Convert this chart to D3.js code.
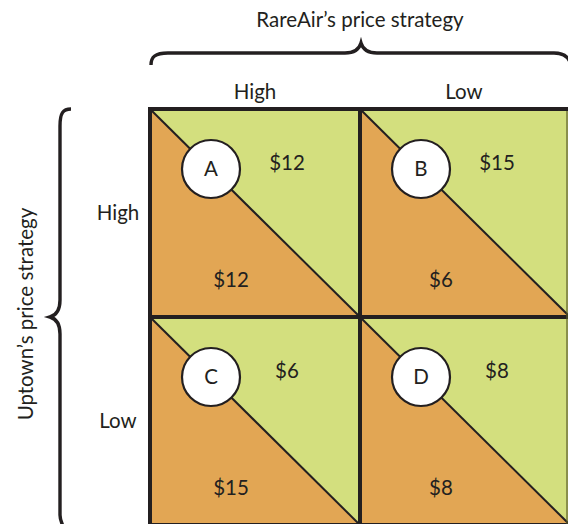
<!DOCTYPE html>
<html><head><meta charset="utf-8">
<script src="https://cdn.jsdelivr.net/npm/d3@7"></script>
<style>html,body{margin:0;padding:0;background:#fff;}svg{display:block;}</style>
</head><body><svg id="chart" width="568" height="524"></svg>
<script>
const rareAirStrategies = ["High", "Low"];
const uptownStrategies = ["High", "Low"];
const cellLetters = ["A", "B", "C", "D"];
const rareAirPayoffs = [12, 15, 6, 8];   // upper-right (green) triangle
const uptownPayoffs  = [12, 6, 15, 8];   // lower-left (orange) triangle
const columnTitle = "RareAir\u2019s price strategy";
const rowTitle = "Uptown\u2019s price strategy";

const cells = [];
uptownStrategies.forEach((u, i) => rareAirStrategies.forEach((r, j) => {
  const k = i * rareAirStrategies.length + j;
  cells.push({row: u, col: r, letter: cellLetters[k], ra: rareAirPayoffs[k], up: uptownPayoffs[k]});
}));

const svg = d3.select("#chart");
const font = "Lato, 'Open Sans', sans-serif";
const fs = 20.5;
const ink = "#231f20";
const green = "#d3df7e", orange = "#e2a654";

const x = d3.scaleBand().domain(rareAirStrategies).range([150, 570]);
const y = d3.scaleBand().domain(uptownStrategies).range([109, 525]);
const bw = x.bandwidth(), bh = y.bandwidth();

const g = svg.append("g");
const cg = g.selectAll("g.cell").data(cells).join("g")
  .attr("class", "cell")
  .attr("transform", d => `translate(${x(d.col)},${y(d.row)})`);

cg.append("path").attr("d", `M0,0 L${bw},0 L${bw},${bh} Z`).attr("fill", green);
cg.append("path").attr("d", `M0,0 L0,${bh} L${bw},${bh} Z`).attr("fill", orange);
cg.append("line").attr("x1", 0).attr("y1", 0).attr("x2", bw).attr("y2", bh)
  .attr("stroke", ink).attr("stroke-width", 2);
cg.append("circle").attr("cx", 61).attr("cy", 60).attr("r", 29)
  .attr("fill", "#fff").attr("stroke", ink).attr("stroke-width", 2.2);
cg.append("text").attr("x", 61).attr("y", 60).attr("dy", "0.36em")
  .attr("text-anchor", "middle").attr("font-family", font).attr("font-size", fs)
  .attr("fill", ink).text(d => d.letter);
cg.append("text").attr("x", 137).attr("y", 54).attr("dy", "0.36em")
  .attr("text-anchor", "middle").attr("font-family", font).attr("font-size", fs)
  .attr("fill", ink).text(d => "$" + d.ra);
cg.append("text").attr("x", 81).attr("y", 171).attr("dy", "0.36em")
  .attr("text-anchor", "middle").attr("font-family", font).attr("font-size", fs)
  .attr("fill", ink).text(d => "$" + d.up);

// grid lines
const gridG = svg.append("g").attr("stroke", ink).attr("stroke-width", 4).attr("fill", "none");
gridG.append("rect").attr("x", 150).attr("y", 109).attr("width", 420).attr("height", 416);
gridG.append("line").attr("x1", x("Low")).attr("x2", x("Low")).attr("y1", 109).attr("y2", 525);
gridG.append("line").attr("y1", y("Low")).attr("y2", y("Low")).attr("x1", 150).attr("x2", 570);
svg.append("line").attr("x1", 567).attr("x2", 567).attr("y1", 111).attr("y2", 524)
  .attr("stroke", "#5a5a2a").attr("stroke-width", 1.2);

// headers
svg.selectAll("text.colh").data(rareAirStrategies).join("text")
  .attr("class", "colh").attr("x", d => x(d) + bw / 2 + (d === "High" ? 0 : -1)).attr("y", 92).attr("dy", "0.36em")
  .attr("text-anchor", "middle").attr("font-family", font).attr("font-size", fs).attr("fill", ink)
  .text(d => d);
svg.selectAll("text.rowh").data(uptownStrategies).join("text")
  .attr("class", "rowh").attr("x", 118).attr("y", d => y(d) + 104).attr("dy", "0.36em")
  .attr("text-anchor", "middle").attr("font-family", font).attr("font-size", fs).attr("fill", ink)
  .text(d => d);

svg.append("text").attr("x", 360).attr("y", 20).attr("dy", "0.36em")
  .attr("text-anchor", "middle").attr("font-family", font).attr("font-size", fs).attr("fill", ink)
  .text(columnTitle);
svg.append("text").attr("transform", "translate(26,314) rotate(-90)").attr("dy", "0.36em")
  .attr("text-anchor", "middle").attr("font-family", font).attr("font-size", fs).attr("fill", ink)
  .text(rowTitle);

// braces
const braceTop = `M151,65 C151,57 155,53 168,53 L345,53 C354,53 359,50 361,43 C363,50 368,53 377,53 L554,53 C564,53 568,57 570,62`;
svg.append("path").attr("d", braceTop).attr("fill", "none").attr("stroke", ink).attr("stroke-width", 3.4);
const braceLeft = `M71,109 C63,109 60,113 60,126 L60,300 C60,310 57,315 50,317 C57,319 60,324 60,334 L60,515 C60,521 62,524 65,530`;
svg.append("path").attr("d", braceLeft).attr("fill", "none").attr("stroke", ink).attr("stroke-width", 3.4);
</script></body></html>
